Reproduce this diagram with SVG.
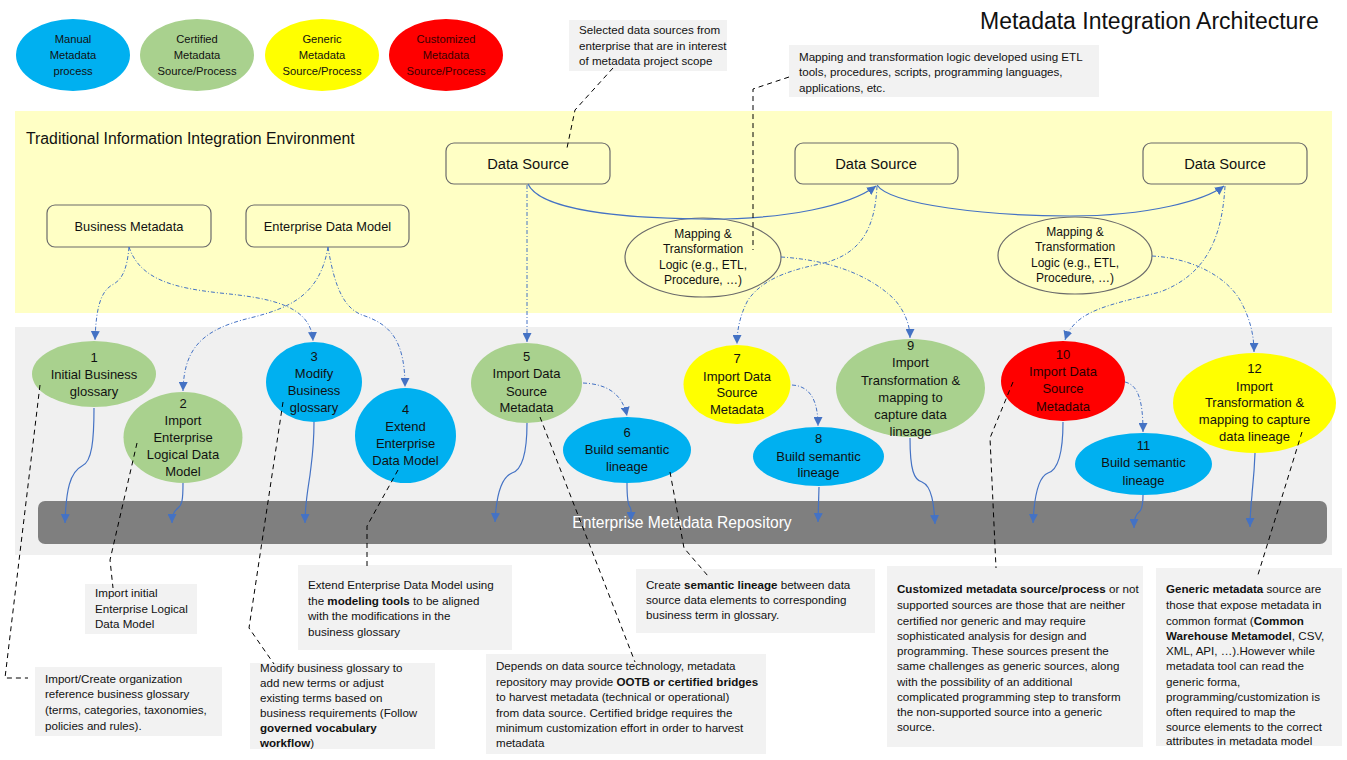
<svg xmlns="http://www.w3.org/2000/svg" width="1347" height="760" viewBox="0 0 1347 760">
<style>
text{font-family:"Liberation Sans",Arial,sans-serif;fill:#111}
.leg{font-size:11.2px;text-anchor:middle}
.nt{font-size:13px;text-anchor:middle}
.mt{font-size:12px;text-anchor:middle}
.note{font-size:11.6px}
.box{fill:#FFFFC5;stroke:#6b6b6b;stroke-width:1.2}
.nb{fill:#F2F2F2}
.blue{fill:#00B0F0}
.green{fill:#A9D18E}
.yellow{fill:#FFFF00}
.red{fill:#FF0000}
.dd{fill:none;stroke:#4472C4;stroke-width:1;stroke-dasharray:4 2 1 2;marker-end:url(#ah)}
.sl{fill:none;stroke:#4472C4;stroke-width:1.2;marker-end:url(#ah)}
.cl{fill:none;stroke:#000;stroke-width:1;stroke-dasharray:5 4}
.b{font-weight:bold}
</style>
<defs>
<marker id="ah" viewBox="0 0 10 10" refX="10" refY="5" markerWidth="9" markerHeight="9" markerUnits="userSpaceOnUse" orient="auto">
<path d="M0,0 L10,5 L0,10 z" fill="#4472C4"/>
</marker>
</defs>
<rect width="1347" height="760" fill="#fff"/>

<text x="980" y="29" style="font-size:23px" fill="#222">Metadata Integration Architecture</text>

<g id="legend">
<g id="legend-manual"><ellipse class="blue" cx="73" cy="55" rx="57" ry="36"/><text class="leg" x="73" y="43">Manual</text><text class="leg" x="73" y="59">Metadata</text><text class="leg" x="73" y="75">process</text></g>
<g id="legend-certified"><ellipse class="green" cx="197" cy="55" rx="57" ry="36"/><text class="leg" x="197" y="43">Certified</text><text class="leg" x="197" y="59">Metadata</text><text class="leg" x="197" y="75">Source/Process</text></g>
<g id="legend-generic"><ellipse class="yellow" cx="322" cy="55" rx="57" ry="36"/><text class="leg" x="322" y="43">Generic</text><text class="leg" x="322" y="59">Metadata</text><text class="leg" x="322" y="75">Source/Process</text></g>
<g id="legend-customized"><ellipse class="red" cx="446" cy="55" rx="57" ry="36"/><text class="leg" x="446" y="43" style="fill:#3a0000">Customized</text><text class="leg" x="446" y="59" style="fill:#3a0000">Metadata</text><text class="leg" x="446" y="75" style="fill:#3a0000">Source/Process</text></g>
</g>

<g id="band-traditional">
<rect x="15" y="111" width="1317" height="202" fill="#FFFFC5"/>
<text x="26" y="144" style="font-size:15.8px">Traditional Information Integration Environment</text>
</g>
<g id="band-repository">
<rect x="15" y="327" width="1317" height="228" fill="#F0F0F0"/>
</g>

<g id="note-sources"><rect class="nb" x="569" y="20" width="158" height="51"/>
<text class="note" x="579" y="34">Selected data sources from</text><text class="note" x="579" y="50">enterprise that are in interest</text><text class="note" x="579" y="65">of metadata project scope</text></g>
<g id="note-mapping"><rect class="nb" x="789" y="45" width="310" height="52"/>
<text class="note" x="799" y="61">Mapping and transformation logic developed using ETL</text><text class="note" x="799" y="76">tools, procedures, scripts, programming languages,</text><text class="note" x="799" y="92">applications, etc.</text></g>

<g id="ds1"><rect class="box" x="446" y="143" width="164" height="41" rx="8"/><text x="528" y="169" style="font-size:14.7px;text-anchor:middle">Data Source</text></g>
<g id="ds2"><rect class="box" x="795" y="143" width="163" height="41" rx="8"/><text x="876" y="169" style="font-size:14.7px;text-anchor:middle">Data Source</text></g>
<g id="ds3"><rect class="box" x="1143" y="143" width="164" height="41" rx="8"/><text x="1225" y="169" style="font-size:14.7px;text-anchor:middle">Data Source</text></g>
<g id="business-metadata"><rect class="box" x="47" y="205" width="164" height="42" rx="8"/><text x="129" y="230.5" style="font-size:12.8px;text-anchor:middle">Business Metadata</text></g>
<g id="enterprise-data-model"><rect class="box" x="246" y="205" width="163" height="42" rx="8"/><text x="327.5" y="230.5" style="font-size:12.8px;text-anchor:middle">Enterprise Data Model</text></g>

<g id="mapping1"><ellipse class="box" cx="703" cy="257.5" rx="78" ry="39.5"/>
<text class="mt" x="703" y="238">Mapping &amp;</text><text class="mt" x="703" y="253">Transformation</text><text class="mt" x="703" y="269">Logic (e.g., ETL,</text><text class="mt" x="703" y="284">Procedure, …)</text></g>
<g id="mapping2"><ellipse class="box" cx="1075" cy="255.5" rx="77" ry="38.5"/>
<text class="mt" x="1075" y="236">Mapping &amp;</text><text class="mt" x="1075" y="251">Transformation</text><text class="mt" x="1075" y="267">Logic (e.g., ETL,</text><text class="mt" x="1075" y="282">Procedure, …)</text></g>

<g id="repository"><rect x="38" y="501" width="1289" height="43" rx="7" fill="#7F7F7F"/>
<text x="682" y="528" style="font-size:15.6px;text-anchor:middle;fill:#fff">Enterprise Metadata Repository</text></g>

<g id="n1"><ellipse class="green" cx="94" cy="374" rx="62" ry="33"/>
<text class="nt" x="94" y="362">1</text><text class="nt" x="94" y="379">Initial Business</text><text class="nt" x="94" y="396">glossary</text></g>
<g id="n2"><ellipse class="green" cx="183" cy="437.5" rx="59.5" ry="45.5"/>
<text class="nt" x="183" y="408">2</text><text class="nt" x="183" y="425">Import</text><text class="nt" x="183" y="442">Enterprise</text><text class="nt" x="183" y="459">Logical Data</text><text class="nt" x="183" y="476">Model</text></g>
<g id="n3"><ellipse class="blue" cx="314" cy="382" rx="48" ry="40"/>
<text class="nt" x="314" y="361">3</text><text class="nt" x="314" y="378">Modify</text><text class="nt" x="314" y="395">Business</text><text class="nt" x="314" y="412">glossary</text></g>
<g id="n4"><ellipse class="blue" cx="405.5" cy="435.5" rx="50.5" ry="47.5"/>
<text class="nt" x="405.5" y="414">4</text><text class="nt" x="405.5" y="431">Extend</text><text class="nt" x="405.5" y="448">Enterprise</text><text class="nt" x="405.5" y="465">Data Model</text></g>
<g id="n5"><ellipse class="green" cx="526.5" cy="383" rx="55.5" ry="40"/>
<text class="nt" x="526.5" y="361">5</text><text class="nt" x="526.5" y="378">Import Data</text><text class="nt" x="526.5" y="396">Source</text><text class="nt" x="526.5" y="412">Metadata</text></g>
<g id="n6"><ellipse class="blue" cx="627" cy="450" rx="64" ry="33"/>
<text class="nt" x="627" y="437">6</text><text class="nt" x="627" y="454">Build semantic</text><text class="nt" x="627" y="471">lineage</text></g>
<g id="n7"><ellipse class="yellow" cx="737" cy="384.5" rx="53.5" ry="39.5"/>
<text class="nt" x="737" y="363">7</text><text class="nt" x="737" y="381">Import Data</text><text class="nt" x="737" y="397">Source</text><text class="nt" x="737" y="414">Metadata</text></g>
<g id="n8"><ellipse class="blue" cx="818.5" cy="456.5" rx="65.5" ry="29.5"/>
<text class="nt" x="818.5" y="443">8</text><text class="nt" x="818.5" y="461">Build semantic</text><text class="nt" x="818.5" y="477">lineage</text></g>
<g id="n9"><ellipse class="green" cx="910.5" cy="388" rx="74.5" ry="49"/>
<text class="nt" x="910.5" y="350">9</text><text class="nt" x="910.5" y="367">Import</text><text class="nt" x="910.5" y="385">Transformation &amp;</text><text class="nt" x="910.5" y="402">mapping to</text><text class="nt" x="910.5" y="419">capture data</text><text class="nt" x="910.5" y="436">lineage</text></g>
<g id="n10"><ellipse class="red" cx="1063" cy="381" rx="62" ry="40"/>
<text class="nt" x="1063" y="359" style="fill:#2a0000">10</text><text class="nt" x="1063" y="376" style="fill:#2a0000">Import Data</text><text class="nt" x="1063" y="393" style="fill:#2a0000">Source</text><text class="nt" x="1063" y="411" style="fill:#2a0000">Metadata</text></g>
<g id="n11"><ellipse class="blue" cx="1143.5" cy="464" rx="68.5" ry="31"/>
<text class="nt" x="1143.5" y="450">11</text><text class="nt" x="1143.5" y="467">Build semantic</text><text class="nt" x="1143.5" y="485">lineage</text></g>
<g id="n12"><ellipse class="yellow" cx="1254.5" cy="403" rx="81.5" ry="50"/>
<text class="nt" x="1254.5" y="373">12</text><text class="nt" x="1254.5" y="391">Import</text><text class="nt" x="1254.5" y="407">Transformation &amp;</text><text class="nt" x="1254.5" y="424">mapping to capture</text><text class="nt" x="1254.5" y="441">data lineage</text></g>

<g id="note-a"><rect class="nb" x="85" y="584" width="112" height="50"/>
<text class="note" x="95" y="597">Import initial</text><text class="note" x="95" y="613">Enterprise Logical</text><text class="note" x="95" y="628">Data Model</text></g>
<g id="note-b"><rect class="nb" x="35" y="667" width="187" height="69"/>
<text class="note" x="45" y="683">Import/Create organization</text><text class="note" x="45" y="698">reference business glossary</text><text class="note" x="45" y="714">(terms, categories, taxonomies,</text><text class="note" x="45" y="730">policies and rules).</text></g>
<g id="note-c"><rect class="nb" x="298" y="565" width="214" height="85"/>
<text class="note" x="308" y="589">Extend Enterprise Data Model using</text><text class="note" x="308" y="605">the <tspan class="b">modeling tools</tspan> to be aligned</text><text class="note" x="308" y="620">with the modifications in the</text><text class="note" x="308" y="636">business glossary</text></g>
<g id="note-d"><rect class="nb" x="250" y="663" width="185" height="86"/>
<text class="note" x="260" y="672">Modify business glossary to</text><text class="note" x="260" y="687">add new terms or adjust</text><text class="note" x="260" y="702">existing terms based on</text><text class="note" x="260" y="717">business requirements (Follow</text><text class="note b" x="260" y="732">governed vocabulary</text><text class="note" x="260" y="747"><tspan class="b">workflow</tspan>)</text></g>
<g id="note-e"><rect class="nb" x="636" y="569" width="239" height="64"/>
<text class="note" x="646" y="589">Create <tspan class="b">semantic lineage</tspan> between data</text><text class="note" x="646" y="604">source data elements to corresponding</text><text class="note" x="646" y="619">business term in glossary.</text></g>
<g id="note-f"><rect class="nb" x="486" y="654" width="280" height="100"/>
<text class="note" x="496" y="670">Depends on data source technology, metadata</text><text class="note" x="496" y="686">repository may provide <tspan class="b">OOTB or certified bridges</tspan></text><text class="note" x="496" y="701">to harvest metadata (technical or operational)</text><text class="note" x="496" y="717">from data source. Certified bridge requires the</text><text class="note" x="496" y="732">minimum customization effort in order to harvest</text><text class="note" x="496" y="747">metadata</text></g>
<g id="note-g"><rect class="nb" x="887" y="566" width="256" height="181"/>
<text class="note" x="897" y="593"><tspan class="b">Customized metadata source/process</tspan> or not</text><text class="note" x="897" y="609">supported sources are those that are neither</text><text class="note" x="897" y="625">certified nor generic and may require</text><text class="note" x="897" y="640">sophisticated analysis for design and</text><text class="note" x="897" y="655">programming. These sources present the</text><text class="note" x="897" y="670">same challenges as generic sources, along</text><text class="note" x="897" y="686">with the possibility of an additional</text><text class="note" x="897" y="701">complicated programming step to transform</text><text class="note" x="897" y="716">the non-supported source into a generic</text><text class="note" x="897" y="731">source.</text></g>
<g id="note-h"><rect class="nb" x="1156" y="568" width="186" height="178"/>
<text class="note" x="1166" y="593"><tspan class="b">Generic metadata</tspan> source are</text><text class="note" x="1166" y="609">those that expose metadata in</text><text class="note" x="1166" y="625">common format (<tspan class="b">Common</tspan></text><text class="note" x="1166" y="640"><tspan class="b">Warehouse Metamodel</tspan>, CSV,</text><text class="note" x="1166" y="655">XML, API, …).However while</text><text class="note" x="1166" y="670">metadata tool can read the</text><text class="note" x="1166" y="686">generic forma,</text><text class="note" x="1166" y="701">programming/customization is</text><text class="note" x="1166" y="716">often required to map the</text><text class="note" x="1166" y="731">source elements to the correct</text><text class="note" x="1166" y="745">attributes in metadata model</text></g>

<g id="connectors">
<path class="sl" d="M528,184 C540,210 620,218 700,219 C790,220 850,205 876,186"/>
<path class="sl" d="M877,185 C890,205 990,216 1070,216 C1150,216 1205,200 1224,186"/>
<path class="dd" d="M129,247 C127,270 122,280 112,285 C100,292 96,310 95,340"/>
<path class="dd" d="M129,247 C140,280 175,288 220,293 C270,298 311,305 313,341"/>
<path class="dd" d="M328,247 C320,295 290,308 250,318 C200,330 184,350 183,391"/>
<path class="dd" d="M328,247 C335,290 345,310 365,316 C390,325 405,340 405,387"/>
<path class="dd" d="M527,185 L527,342"/>
<path class="dd" d="M877,186 C875,230 860,255 820,264 C780,272 760,283 748,300 C740,315 737,330 737,344"/>
<path class="dd" d="M781,257 C830,260 870,275 895,300 C905,312 910,325 910,338"/>
<path class="dd" d="M1225,186 C1222,240 1205,275 1160,292 C1110,305 1075,310 1065,340"/>
<path class="dd" d="M1152,256 C1190,258 1225,275 1240,300 C1250,318 1254,335 1254,352"/>
<path class="dd" d="M583,383 C605,384 622,392 627,416"/>
<path class="dd" d="M792,385 C810,386 818,400 818,426"/>
<path class="dd" d="M1125,382 C1138,385 1143,400 1143,432"/>
<path class="sl" d="M94,408 C94,440 92,462 82,466 C70,472 66,490 65,523"/>
<path class="sl" d="M183,483 C183,500 182,505 178,508 C173,512 172,516 172,523"/>
<path class="sl" d="M314,422 C314,450 311,465 310,475 C307,495 305,505 305,523"/>
<path class="sl" d="M527,423 C527,455 522,470 512,473 C500,478 496,500 495,522"/>
<path class="sl" d="M627,483 C627,500 628,505 630,507 C632,510 631,515 631,521"/>
<path class="sl" d="M819,487 L818,522"/>
<path class="sl" d="M910,438 C910,470 914,480 922,482 C932,486 934,505 935,524"/>
<path class="sl" d="M1063,422 C1063,455 1058,470 1048,473 C1038,477 1034,500 1033,523"/>
<path class="sl" d="M1143,495 C1143,505 1142,510 1139,512 C1135,515 1134,520 1134,528"/>
<path class="sl" d="M1255,453 C1254,480 1252,490 1252,495 C1251,505 1250,515 1250,527"/>
<path class="cl" d="M613,68 L575,110 L567,148"/>
<path class="cl" d="M789,77 L753,89 L753,250"/>
<path class="cl" d="M40,385 L5,678 L28,678"/>
<path class="cl" d="M137,443 L110,560 L113,588"/>
<path class="cl" d="M283,402 L249,628 L274,664"/>
<path class="cl" d="M398,470 L367,526 L367,568"/>
<path class="cl" d="M540,417 L635,662"/>
<path class="cl" d="M670,472 L684,548 L708,576"/>
<path class="cl" d="M1013,382 L990,438 L996,568"/>
<path class="cl" d="M1302,432 L1257,578"/>
</g>
</svg>
